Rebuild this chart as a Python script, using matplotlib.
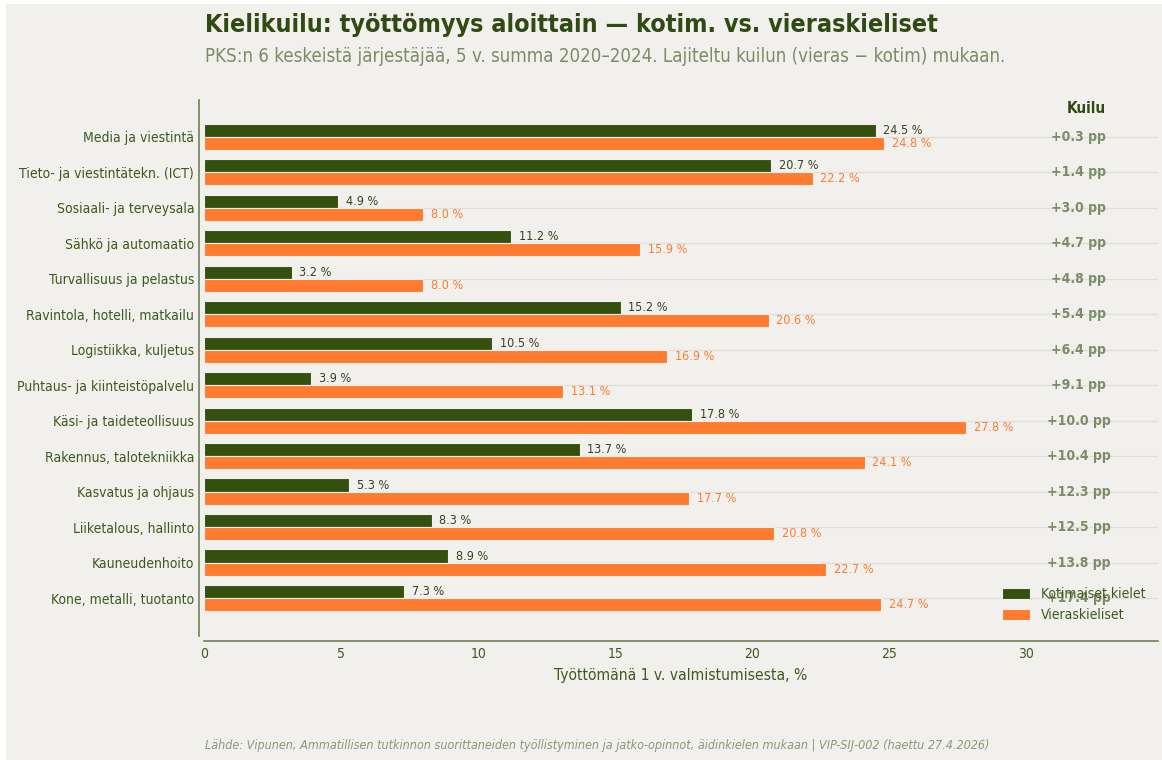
import matplotlib
matplotlib.use("Agg")
import matplotlib.pyplot as plt
from matplotlib.patches import Rectangle
import numpy as np

categories = [
    "Media ja viestintä", "Tieto- ja viestintätekn. (ICT)", "Sosiaali- ja terveysala",
    "Sähkö ja automaatio", "Turvallisuus ja pelastus", "Ravintola, hotelli, matkailu",
    "Logistiikka, kuljetus", "Puhtaus- ja kiinteistöpalvelu", "Käsi- ja taideteollisuus",
    "Rakennus, talotekniikka", "Kasvatus ja ohjaus", "Liiketalous, hallinto",
    "Kauneudenhoito", "Kone, metalli, tuotanto",
]
kotim = [24.5, 20.7, 4.9, 11.2, 3.2, 15.2, 10.5, 3.9, 17.8, 13.7, 5.3, 8.3, 8.9, 7.3]
vieras = [24.8, 22.2, 8.0, 15.9, 8.0, 20.6, 16.9, 13.1, 27.8, 24.1, 17.7, 20.8, 22.7, 24.7]
gaps = [0.3, 1.4, 3.0, 4.7, 4.8, 5.4, 6.4, 9.1, 10.0, 10.4, 12.3, 12.5, 13.8, 17.4]
xticks = [0, 5, 10, 15, 20, 25, 30]

BG = "#f2f0ec"
DARK = "#33500f"
ORANGE = "#ff7b30"
TXT = "#3d5a1e"
MUTED = "#7b8d66"

plt.rcParams["font.family"] = "DejaVu Sans"
plt.rcParams["font.stretch"] = "condensed"

fig = plt.figure(figsize=(11.62, 7.60), dpi=100, facecolor="white")
fig.patches.append(Rectangle((6/1162, 0), 1 - 6/1162, 1 - 4/760, transform=fig.transFigure,
                             facecolor=BG, edgecolor="none", zorder=-10))
ax = fig.add_axes([204/1162, 1 - 636/760, (1158 - 204)/1162, (636 - 100)/760])
ax.set_facecolor(BG)

y = np.arange(len(categories))
h = 0.37
ax.barh(y - h/2, kotim, height=h, color=DARK, edgecolor=BG, linewidth=0.8,
        label="Kotimaiset kielet", zorder=3)
ax.barh(y + h/2, vieras, height=h, color=ORANGE, edgecolor=BG, linewidth=0.8,
        label="Vieraskieliset", zorder=3)

for i in range(len(categories)):
    ax.text(kotim[i] + 0.28, y[i] - h/2, f"{kotim[i]:.1f} %", va="center", ha="left",
            fontsize=9, color="#34421f", zorder=4)
    ax.text(vieras[i] + 0.28, y[i] + h/2, f"{vieras[i]:.1f} %", va="center", ha="left",
            fontsize=9, color=ORANGE, zorder=4)
    ax.text(31.9, y[i], f"+{gaps[i]:.1f} pp", va="center", ha="center",
            fontsize=10, fontweight="bold", color=MUTED, zorder=4)

ax.text(32.2, -0.8, "Kuilu", va="center", ha="center", fontsize=11,
        fontweight="bold", color="#2f4a12")

ax.set_xlim(0, 34.8)
ax.set_ylim(len(categories) - 1 + 1.07, -1.04)
ax.set_yticks(y)
ax.set_yticklabels(categories, fontsize=10)
ax.set_xticks(xticks)
ax.set_xticklabels([str(t) for t in xticks], fontsize=10)
ax.tick_params(axis="y", length=0, pad=3.5, labelcolor=TXT)
ax.tick_params(axis="x", length=0, pad=4.5, labelcolor=TXT)
ax.grid(axis="y", color="#e0ded8", linewidth=0.9, zorder=0)
ax.grid(axis="x", visible=False)

for s in ["top", "right"]:
    ax.spines[s].set_visible(False)
ax.spines["left"].set_position(("outward", 3.6))
ax.spines["bottom"].set_position(("outward", 3.6))
ax.spines["left"].set_color("#6f8257")
ax.spines["bottom"].set_color("#6f8257")
ax.spines["left"].set_linewidth(1.2)
ax.spines["bottom"].set_linewidth(1.2)

ax.set_xlabel("Työttömänä 1 v. valmistumisesta, %", fontsize=11.2, color=TXT, labelpad=5)

leg = ax.legend(loc="lower right", frameon=False, fontsize=10, handlelength=2.0,
                handleheight=0.8, bbox_to_anchor=(1.0, 0.002), labelspacing=0.5,
                handletextpad=0.8)
for t in leg.get_texts():
    t.set_color(TXT)

fig.text(205/1162, 1 - 25/760, "Kielikuilu: työttömyys aloittain — kotim. vs. vieraskieliset",
         fontsize=18, fontweight="bold", color="#2f4a12", va="center", ha="left")
fig.text(205/1162, 1 - 56/760,
         "PKS:n 6 keskeistä järjestäjää, 5 v. summa 2020–2024. Lajiteltu kuilun (vieras − kotim) mukaan.",
         fontsize=13.4, color=MUTED, va="center", ha="left")
fig.text(205/1162, 1 - 746/760,
         "Lähde: Vipunen, Ammatillisen tutkinnon suorittaneiden työllistyminen ja jatko-opinnot, äidinkielen mukaan | VIP-SIJ-002 (haettu 27.4.2026)",
         fontsize=9, style="italic", color="#8a9878", va="center", ha="left")

fig.savefig("out.png", dpi=100, facecolor=fig.get_facecolor())
